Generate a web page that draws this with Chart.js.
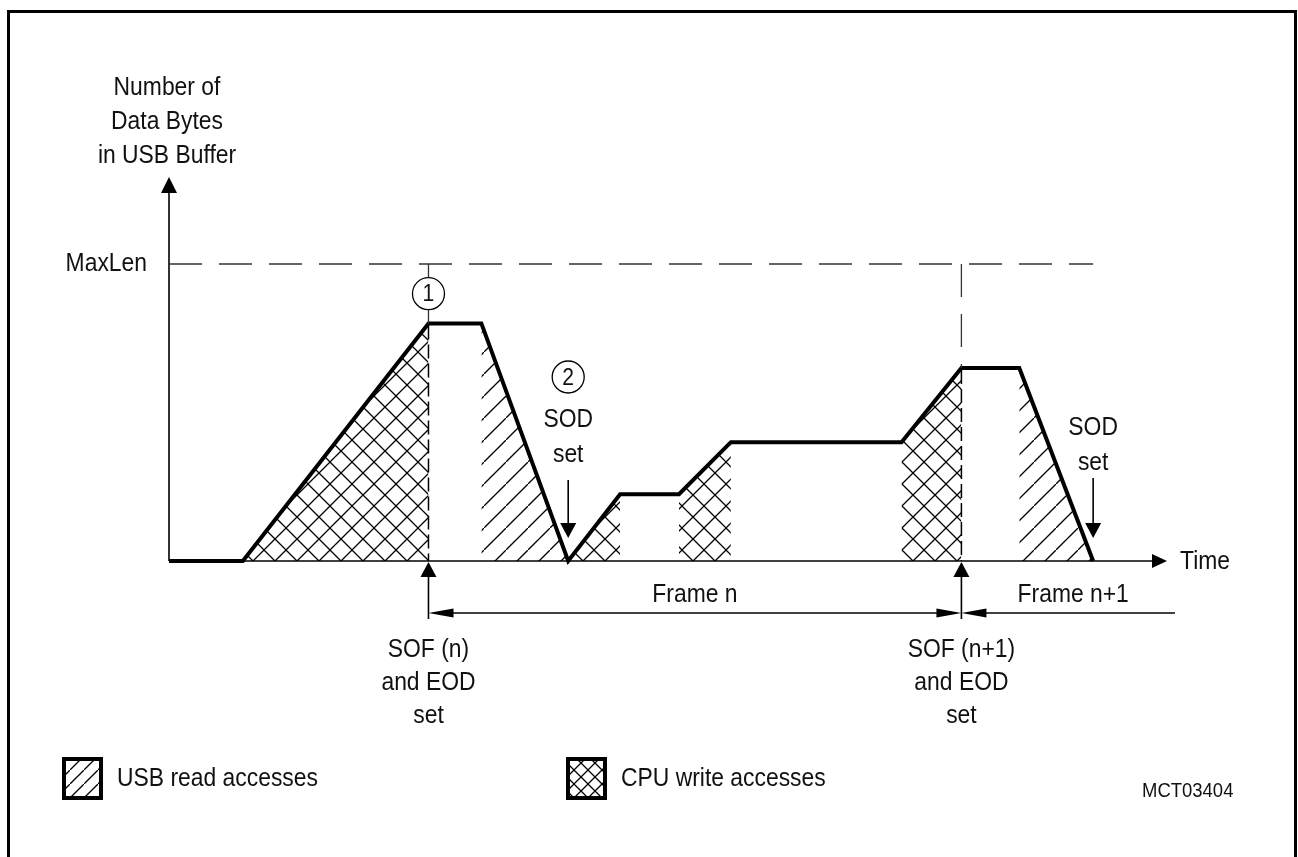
<!DOCTYPE html>
<html>
<head>
    <title>USB Buffer Fill Level</title>
    <script src="https://cdn.jsdelivr.net/npm/chart.js"></script>
    <style>
        body { margin: 0; background: #fff; }
        #wrap { width: 1298px; height: 857px; }
    </style>
</head>
<body>
    <div id="wrap"><canvas id="bufferChart" width="1298" height="857"></canvas></div>

    <script>
        // time axis runs 0..100, buffer level is % of MaxLen
        const timeValues   = [0, 7.4, 26, 31.3, 40, 45.2, 51.1, 56.3, 73.4, 79.4, 85.2, 92.6];
        const bufferLevels = [0, 0,   80, 80,   0,  22.5, 22.5, 40,   40,   65,   65,   0];
        const maxLen = 100;
        const maxLenLineEnd = 92.6;
        const sofTimes = [26, 79.4];
        const sofLabels = [['SOF (n)', 'and EOD', 'set'], ['SOF (n+1)', 'and EOD', 'set']];
        const sodTimes = [40, 92.6];
        const frameLabels = ['Frame n', 'Frame n+1'];
        const frameTailEnd = 100.8;
        const yAxisTitle = ['Number of', 'Data Bytes', 'in USB Buffer'];
        const legendLabels = ['USB read accesses', 'CPU write accesses'];
        const figureId = 'MCT03404';

        const FONT = '"Liberation Sans", Arial, sans-serif';

        function makePattern(size, cross) {
            const c = document.createElement('canvas');
            c.width = size; c.height = size;
            const g = c.getContext('2d');
            g.strokeStyle = '#000';
            g.lineWidth = 1.3;
            g.beginPath();
            g.moveTo(-2, size + 2); g.lineTo(size + 2, -2);
            if (cross) {
                g.moveTo(-2, -2); g.lineTo(size + 2, size + 2);
            }
            g.stroke();
            return g.createPattern(c, 'repeat');
        }

        const diagPattern = makePattern(22, false);
        const crossPattern = makePattern(22, true);
        const diagSmall = makePattern(14, false);
        const crossSmall = makePattern(14, true);

        function text(ctx, str, x, y, align, size, baseline) {
            ctx.save();
            ctx.translate(x, y);
            ctx.scale(0.88, 1);
            ctx.font = (size || 26) + 'px ' + FONT;
            ctx.fillStyle = '#111';
            ctx.textAlign = align || 'center';
            ctx.textBaseline = baseline || 'alphabetic';
            ctx.fillText(str, 0, 0);
            ctx.restore();
        }

        function arrowHead(ctx, tipX, tipY, dir, len, half) {
            ctx.beginPath();
            if (dir === 'up') {
                ctx.moveTo(tipX, tipY); ctx.lineTo(tipX - half, tipY + len); ctx.lineTo(tipX + half, tipY + len);
            } else if (dir === 'down') {
                ctx.moveTo(tipX, tipY); ctx.lineTo(tipX - half, tipY - len); ctx.lineTo(tipX + half, tipY - len);
            } else if (dir === 'right') {
                ctx.moveTo(tipX, tipY); ctx.lineTo(tipX - len, tipY - half); ctx.lineTo(tipX - len, tipY + half);
            } else {
                ctx.moveTo(tipX, tipY); ctx.lineTo(tipX + len, tipY - half); ctx.lineTo(tipX + len, tipY + half);
            }
            ctx.closePath();
            ctx.fill();
        }

        function line(ctx, x1, y1, x2, y2, width, dash) {
            ctx.save();
            ctx.lineWidth = width;
            ctx.setLineDash(dash || []);
            ctx.beginPath();
            ctx.moveTo(x1, y1);
            ctx.lineTo(x2, y2);
            ctx.stroke();
            ctx.restore();
        }

        function circled(ctx, label, x, y) {
            ctx.save();
            ctx.lineWidth = 1.3;
            ctx.beginPath();
            ctx.arc(x, y, 16, 0, Math.PI * 2);
            ctx.stroke();
            ctx.restore();
            text(ctx, label, x, y + 1, 'center', 24, 'middle');
        }

        const annotations = {
            id: 'annotations',
            afterDraw(chart) {
                const ctx = chart.ctx;
                const xs = chart.scales.x, ys = chart.scales.y;
                const area = chart.chartArea;
                const base = ys.getPixelForValue(0);
                const yMax = ys.getPixelForValue(maxLen);
                ctx.save();
                ctx.strokeStyle = '#000';
                ctx.fillStyle = '#000';

                // axes with arrows
                const x0 = xs.getPixelForValue(0);
                line(ctx, x0, base, x0, area.top + 15, 1.6);
                arrowHead(ctx, x0, area.top, 'up', 16, 8);
                line(ctx, x0, base, area.right - 14, base, 1.6);
                arrowHead(ctx, area.right, base, 'right', 15, 7);
                text(ctx, 'Time', area.right + 13, base + 1, 'left', 26, 'middle');

                // y title and MaxLen
                yAxisTitle.forEach((s, i) => text(ctx, s, x0 - 2, 95 + i * 34));
                text(ctx, 'MaxLen', x0 - 22, yMax, 'right', 26, 'middle');
                ctx.strokeStyle = '#333';
                line(ctx, x0, yMax, xs.getPixelForValue(maxLenLineEnd), yMax, 1.3, [33, 17]);

                // SOF markers
                const peakIdx = sofTimes.map(t => timeValues.indexOf(t));
                const sx1 = xs.getPixelForValue(sofTimes[0]);
                const sx2 = xs.getPixelForValue(sofTimes[1]);
                const p1 = ys.getPixelForValue(bufferLevels[peakIdx[0]]);
                const p2 = ys.getPixelForValue(bufferLevels[peakIdx[1]]);
                const c1y = (yMax + p1) / 2;
                line(ctx, sx1, yMax, sx1, c1y - 16, 1.3);
                line(ctx, sx1, c1y + 16, sx1, p1, 1.3);
                line(ctx, sx2, yMax, sx2, p2, 1.3, [33, 17]);
                ctx.strokeStyle = '#000';
                line(ctx, sx1, p1 + 2, sx1, base, 1.5, [14, 5]);
                line(ctx, sx2, p2 + 2, sx2, base, 1.5, [14, 5]);
                circled(ctx, '1', sx1, c1y);

                [sx1, sx2].forEach((sx, i) => {
                    line(ctx, sx, base + 58, sx, base + 15, 1.6);
                    arrowHead(ctx, sx, base + 1, 'up', 15, 8);
                    sofLabels[i].forEach((s, j) => text(ctx, s, sx, base + 96 + j * 33));
                });

                // frame spans
                const fy = base + 52;
                line(ctx, sx1 + 20, fy, sx2 - 20, fy, 1.6);
                arrowHead(ctx, sx1, fy, 'left', 25, 4.5);
                arrowHead(ctx, sx2, fy, 'right', 25, 4.5);
                line(ctx, sx2 + 20, fy, xs.getPixelForValue(frameTailEnd), fy, 1.6);
                arrowHead(ctx, sx2, fy, 'left', 25, 4.5);
                text(ctx, frameLabels[0], (sx1 + sx2) / 2, base + 41);
                text(ctx, frameLabels[1], xs.getPixelForValue((sofTimes[1] + frameTailEnd) / 2) + 5, base + 41);

                // SOD markers
                const d1 = xs.getPixelForValue(sodTimes[0]);
                const d2 = xs.getPixelForValue(sodTimes[1]);
                circled(ctx, '2', d1, 377);
                text(ctx, 'SOD', d1, 427);
                text(ctx, 'set', d1, 462);
                line(ctx, d1, 480, d1, base - 35, 1.6);
                arrowHead(ctx, d1, base - 23, 'down', 15, 8);
                text(ctx, 'SOD', d2, 435);
                text(ctx, 'set', d2, 470);
                line(ctx, d2, 478, d2, base - 35, 1.6);
                arrowHead(ctx, d2, base - 23, 'down', 15, 8);

                // legend
                const swatches = [[62, diagSmall, legendLabels[0]], [566, crossSmall, legendLabels[1]]];
                swatches.forEach(([lx, pat, label]) => {
                    ctx.save();
                    ctx.fillStyle = pat;
                    ctx.fillRect(lx, 757, 41, 43);
                    ctx.lineWidth = 4;
                    ctx.strokeStyle = '#000';
                    ctx.strokeRect(lx + 2, 759, 37, 39);
                    ctx.restore();
                    text(ctx, label, lx + 55, 779, 'left', 26, 'middle');
                });
                text(ctx, figureId, 1142, 797, 'left', 21);

                // outer frame
                ctx.lineWidth = 3;
                ctx.strokeStyle = '#000';
                ctx.strokeRect(8.5, 11.5, 1287, 900);
                ctx.restore();
            }
        };

        const mainData = timeValues.map((t, i) => ({ x: t, y: bufferLevels[i] }));

        // rising segments = CPU writes (cross hatch), falling = USB reads (diagonal)
        const hatchSets = [];
        for (let i = 0; i < timeValues.length - 1; i++) {
            const dy = bufferLevels[i + 1] - bufferLevels[i];
            if (dy === 0) continue;
            hatchSets.push({
                data: [mainData[i], mainData[i + 1]],
                fill: 'origin',
                backgroundColor: dy > 0 ? crossPattern : diagPattern,
                borderColor: 'transparent',
                borderWidth: 0,
                pointRadius: 0,
                order: 2
            });
        }

        new Chart(document.getElementById('bufferChart'), {
            type: 'line',
            data: {
                datasets: [{
                    label: 'Buffer level',
                    data: mainData,
                    borderColor: '#000',
                    borderWidth: 4,
                    borderJoinStyle: 'miter',
                    fill: false,
                    pointRadius: 0,
                    tension: 0,
                    clip: false,
                    order: 1
                }].concat(hatchSets)
            },
            options: {
                responsive: false,
                animation: false,
                events: [],
                layout: { padding: { left: 169, right: 131, top: 177, bottom: 296 } },
                scales: {
                    x: { type: 'linear', min: 0, max: 100, display: false },
                    y: { type: 'linear', min: 0, max: 129.3, display: false }
                },
                plugins: {
                    legend: { display: false },
                    tooltip: { enabled: false }
                }
            },
            plugins: [annotations]
        });
    </script>
</body>
</html>
